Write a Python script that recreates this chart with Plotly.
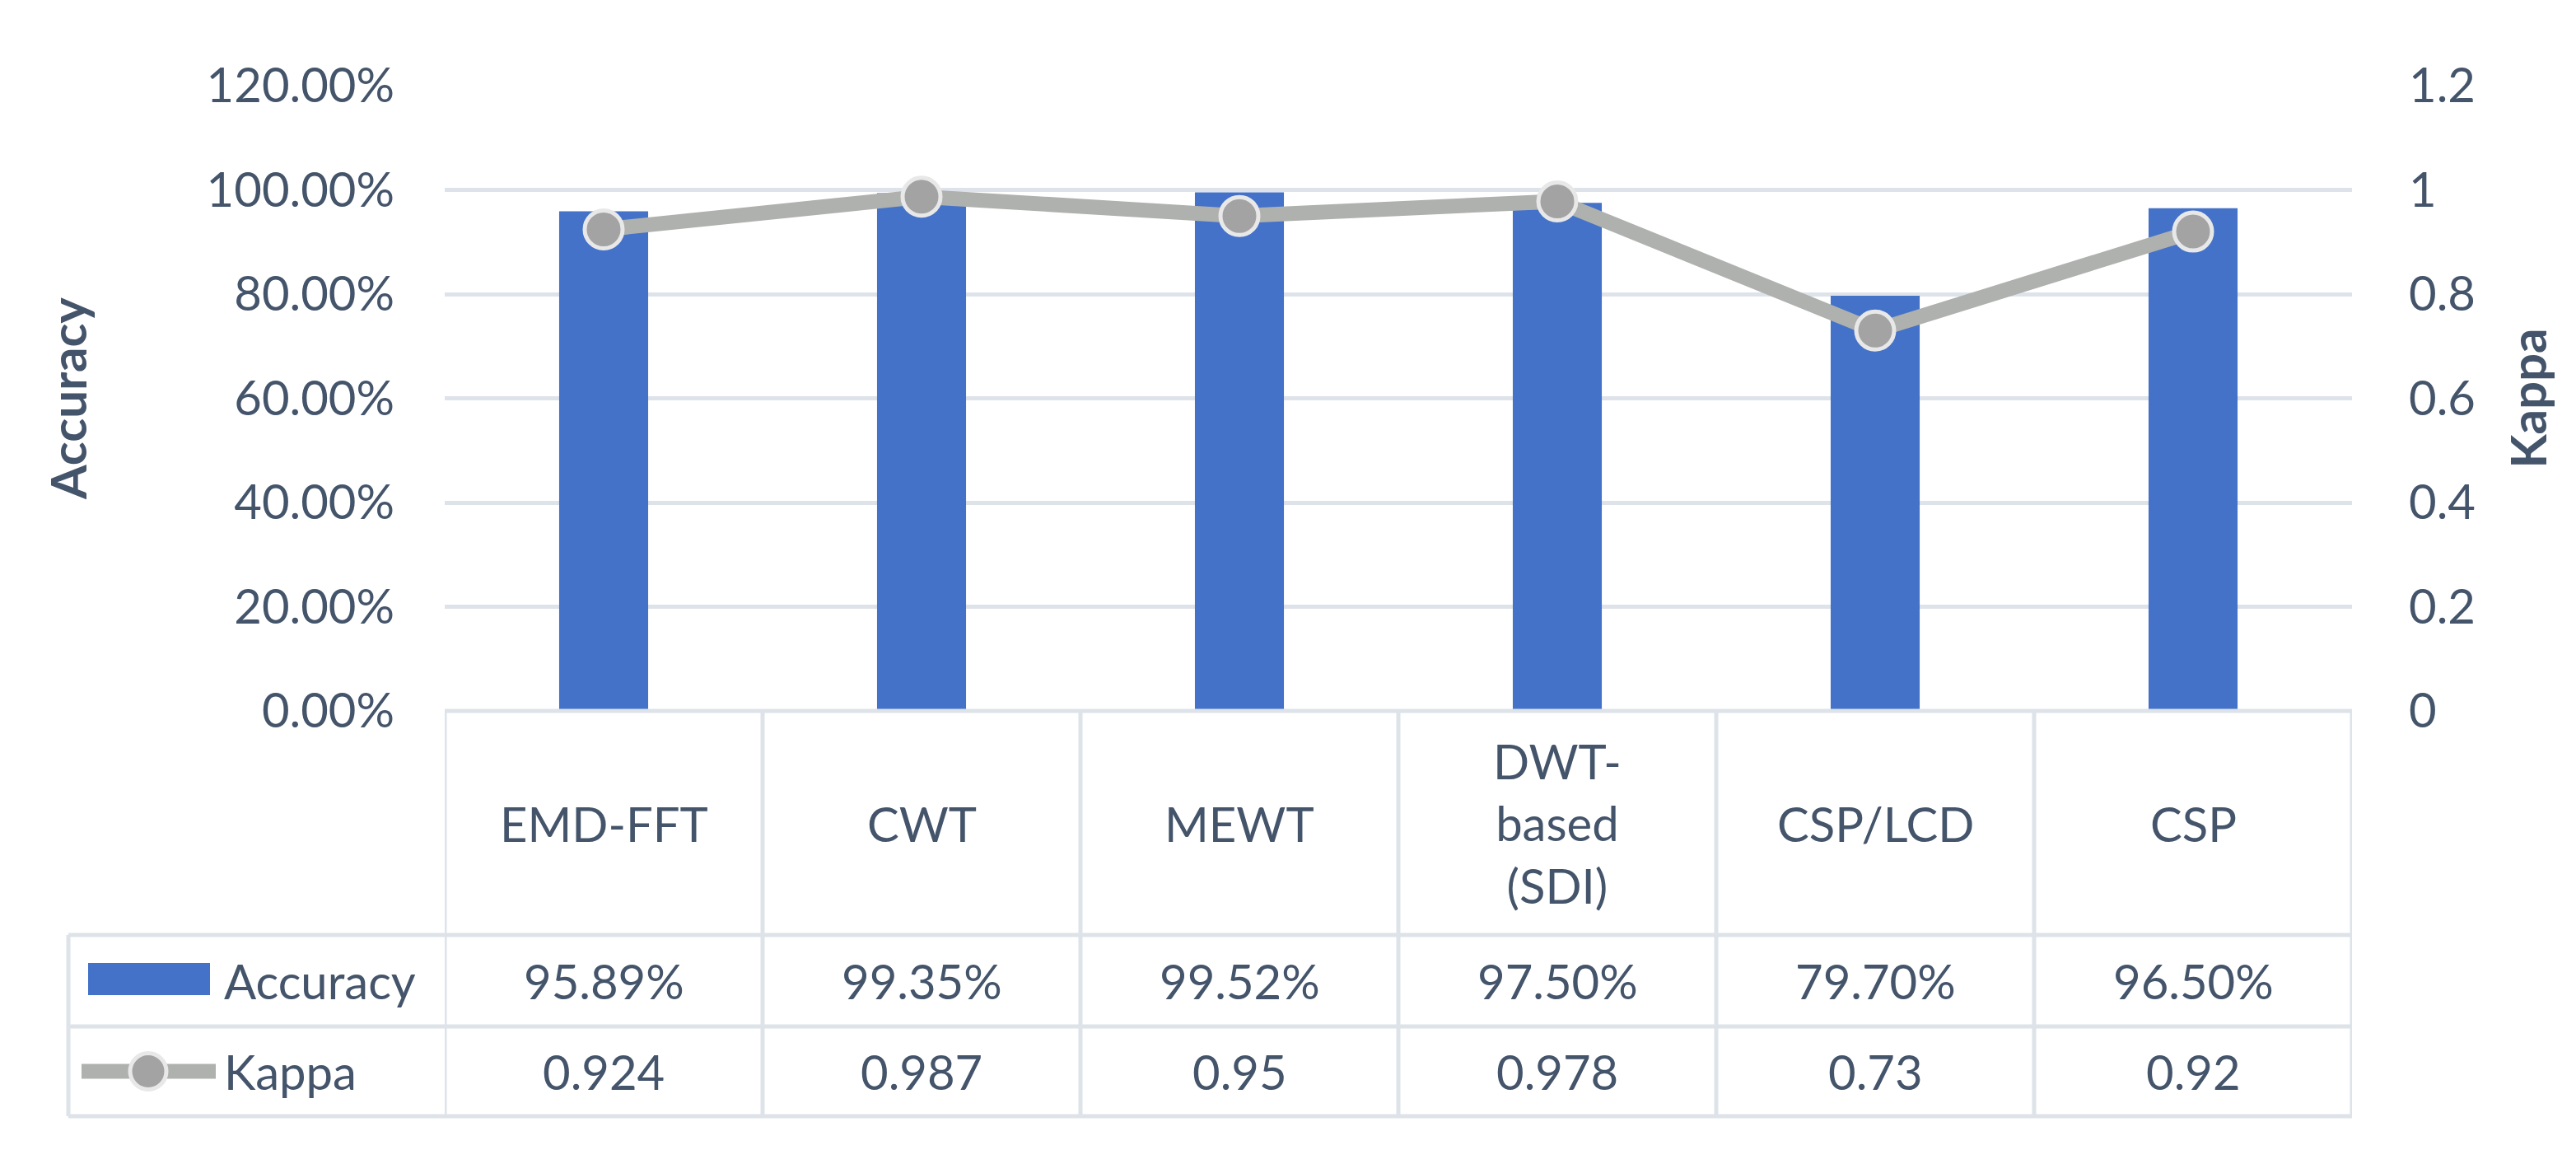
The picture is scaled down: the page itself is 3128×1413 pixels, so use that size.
import plotly.graph_objects as go

methods = ["EMD-FFT", "CWT", "MEWT", "DWT-based (SDI)", "CSP/LCD", "CSP"]
accuracy = [0.9589, 0.9935, 0.9952, 0.9750, 0.7970, 0.9650]
kappa = [0.924, 0.987, 0.95, 0.978, 0.73, 0.92]

W, H = 3128, 1413
PLOT_L, PLOT_R, PLOT_T, PLOT_B = 532, 2848, 96, 855
TEXT = "#44546A"
GRID = "#DEE3EA"
BLUE = "#4472C8"
LINE_GRAY = "#AFB1AE"
MARK_GRAY = "#A3A3A3"
FONT = "Lato"


def px_x(p):
    return (p - PLOT_L) / (PLOT_R - PLOT_L)


def px_y(p):
    return (PLOT_B - p) / (PLOT_B - PLOT_T)


def wrap(label):
    return label.replace("DWT-", "DWT-<br>").replace(" (", "<br>(")


fig = go.Figure()
fig.add_trace(go.Bar(
    x=methods, y=accuracy, name="Accuracy",
    marker=dict(color=BLUE, line=dict(width=0)),
    yaxis="y",
))
fig.add_trace(go.Scatter(
    x=methods, y=kappa, name="Kappa", mode="lines+markers",
    line=dict(color=LINE_GRAY, width=18),
    marker=dict(size=46, color=MARK_GRAY, line=dict(color="#E8E8E8", width=5)),
    yaxis="y2",
))

# data table below the plot
row_top, row_cat, row_acc, row_kap = 855, 1127, 1238, 1347
leg_left = 75
shapes = []
line_style = dict(color=GRID, width=5)
for p in (row_top, row_cat, row_acc, row_kap):
    x0 = PLOT_L if p == row_top else leg_left
    shapes.append(dict(type="line", xref="paper", yref="paper",
                       x0=px_x(x0), x1=1, y0=px_y(p), y1=px_y(p), line=line_style))
for i in range(len(methods) + 1):
    shapes.append(dict(type="line", xref="x", yref="paper",
                       x0=i - 0.5, x1=i - 0.5, y0=px_y(row_top), y1=px_y(row_kap),
                       line=line_style))
shapes.append(dict(type="line", xref="paper", yref="paper",
                   x0=px_x(leg_left), x1=px_x(leg_left),
                   y0=px_y(row_cat), y1=px_y(row_kap), line=line_style))

# legend keys inside the table
acc_mid = (row_cat + row_acc) / 2
kap_mid = (row_acc + row_kap) / 2
shapes.append(dict(type="rect", xref="paper", yref="paper",
                   x0=px_x(99), x1=px_x(247), y0=px_y(1161), y1=px_y(1200),
                   fillcolor=BLUE, line=dict(width=0)))
shapes.append(dict(type="line", xref="paper", yref="paper",
                   x0=px_x(91), x1=px_x(254), y0=px_y(kap_mid), y1=px_y(kap_mid),
                   line=dict(color=LINE_GRAY, width=18)))
shapes.append(dict(type="circle", xref="paper", yref="paper",
                   xsizemode="pixel", ysizemode="pixel",
                   xanchor=px_x(172), yanchor=px_y(kap_mid),
                   x0=-22, x1=22, y0=-22, y1=22,
                   fillcolor=MARK_GRAY, line=dict(color="#E8E8E8", width=5)))

annotations = []
cell_font = dict(family=FONT, size=58, color=TEXT)
for m, a, k in zip(methods, accuracy, kappa):
    annotations.append(dict(x=m, xref="x", y=px_y((row_top + row_cat) / 2), yref="paper",
                            text=wrap(m), showarrow=False, font=cell_font,
                            yanchor="middle"))
    annotations.append(dict(x=m, xref="x", y=px_y(acc_mid), yref="paper",
                            text=f"{a:.2%}", showarrow=False, font=cell_font,
                            yanchor="middle"))
    annotations.append(dict(x=m, xref="x", y=px_y(kap_mid), yref="paper",
                            text=f"{k:g}", showarrow=False, font=cell_font,
                            yanchor="middle"))
for name, mid in (("Accuracy", acc_mid), ("Kappa", kap_mid)):
    annotations.append(dict(x=px_x(262), xref="paper", y=px_y(mid), yref="paper",
                            text=name, showarrow=False, font=cell_font,
                            xanchor="left", yanchor="middle"))

fig.update_layout(
    width=W, height=H,
    margin=dict(l=PLOT_L, r=W - PLOT_R, t=PLOT_T, b=H - PLOT_B, autoexpand=False),
    paper_bgcolor="white", plot_bgcolor="white",
    showlegend=False,
    bargap=0.72,
    font=dict(family=FONT, size=58, color=TEXT),
    xaxis=dict(range=[-0.5, len(methods) - 0.5], showticklabels=False,
               showgrid=False, zeroline=False, showline=False),
    yaxis=dict(range=[0, 1.2], dtick=0.2, tickformat=".2%",
               showgrid=True, gridcolor=GRID, gridwidth=5, zeroline=False,
               ticks="", ticklabelstandoff=60,
               title=dict(text="<b>Accuracy</b>", standoff=125,
                          font=dict(family=FONT, size=60, color=TEXT))),
    yaxis2=dict(range=[0, 1.2], dtick=0.2, overlaying="y", side="right",
                showgrid=False, zeroline=False, ticks="", ticklabelstandoff=68,
                title=dict(text="<b>Kappa</b>", standoff=45,
                           font=dict(family=FONT, size=60, color=TEXT))),
    shapes=shapes,
    annotations=annotations,
)

fig.write_html("out.html")
